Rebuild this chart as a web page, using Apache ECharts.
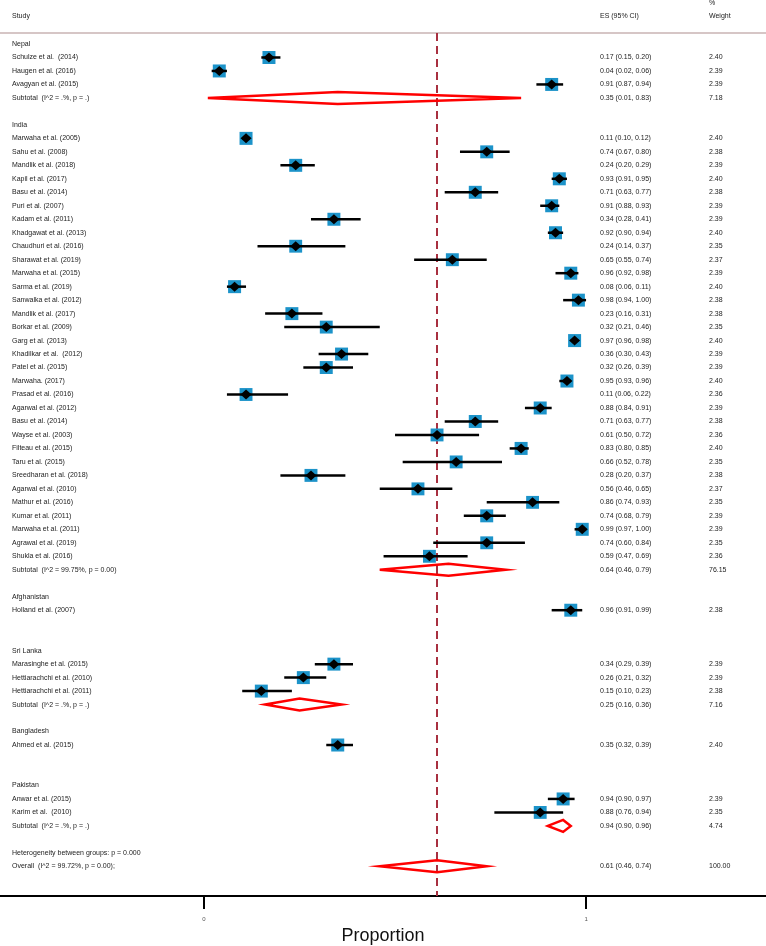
<!DOCTYPE html>
<html>
<head>
<meta charset="utf-8">
<script src="https://cdn.jsdelivr.net/npm/echarts@6/dist/echarts.min.js"></script>
<style>html,body{margin:0;padding:0;background:#fff}#main{width:766px;height:946px}</style>
</head>
<body>
<div id="main"></div>
<script>
// ---------------- DATA ----------------
const groupNames = ['Nepal', 'India', 'Afghanistan', 'Sri Lanka', 'Bangladesh', 'Pakistan'];

const studyNames = [
  'Schulze et al.  (2014)', 'Haugen et al. (2016)', 'Avagyan et al. (2015)',
  'Marwaha et al. (2005)', 'Sahu et al. (2008)', 'Mandlik et al. (2018)', 'Kapil et al. (2017)',
  'Basu et al. (2014)', 'Puri et al. (2007)', 'Kadam et al. (2011)', 'Khadgawat et al. (2013)',
  'Chaudhuri et al. (2016)', 'Sharawat et al. (2019)', 'Marwaha et al. (2015)', 'Sarma et al. (2019)',
  'Sanwalka et al. (2012)', 'Mandlik et al. (2017)', 'Borkar et al. (2009)', 'Garg et al. (2013)',
  'Khadilkar et al.  (2012)', 'Patel et al. (2015)', 'Marwaha. (2017)', 'Prasad et al. (2016)',
  'Agarwal et al. (2012)', 'Basu et al. (2014)', 'Wayse et al. (2003)', 'Filteau et al. (2015)',
  'Taru et al. (2015)', 'Sreedharan et al. (2018)', 'Agarwal et al. (2010)', 'Mathur et al. (2016)',
  'Kumar et al. (2011)', 'Marwaha et al. (2011)', 'Agrawal et al. (2019)', 'Shukla et al. (2016)',
  'Holland et al. (2007)',
  'Marasinghe et al. (2015)', 'Hettiarachchi et al. (2010)', 'Hettiarachchi et al. (2011)',
  'Ahmed et al. (2015)',
  'Anwar et al. (2015)', 'Karim et al.  (2010)'
];
const studyGroup = [
  0, 0, 0,
  1, 1, 1, 1, 1, 1, 1, 1, 1, 1, 1, 1, 1, 1, 1, 1, 1, 1, 1, 1, 1, 1, 1, 1, 1, 1, 1, 1, 1, 1, 1, 1,
  2,
  3, 3, 3,
  4,
  5, 5
];
const studyES = [
  0.17, 0.04, 0.91,
  0.11, 0.74, 0.24, 0.93, 0.71, 0.91, 0.34, 0.92, 0.24, 0.65, 0.96, 0.08, 0.98, 0.23, 0.32, 0.97,
  0.36, 0.32, 0.95, 0.11, 0.88, 0.71, 0.61, 0.83, 0.66, 0.28, 0.56, 0.86, 0.74, 0.99, 0.74, 0.59,
  0.96,
  0.34, 0.26, 0.15,
  0.35,
  0.94, 0.88
];
const studyLo = [
  0.15, 0.02, 0.87,
  0.10, 0.67, 0.20, 0.91, 0.63, 0.88, 0.28, 0.90, 0.14, 0.55, 0.92, 0.06, 0.94, 0.16, 0.21, 0.96,
  0.30, 0.26, 0.93, 0.06, 0.84, 0.63, 0.50, 0.80, 0.52, 0.20, 0.46, 0.74, 0.68, 0.97, 0.60, 0.47,
  0.91,
  0.29, 0.21, 0.10,
  0.32,
  0.90, 0.76
];
const studyHi = [
  0.20, 0.06, 0.94,
  0.12, 0.80, 0.29, 0.95, 0.77, 0.93, 0.41, 0.94, 0.37, 0.74, 0.98, 0.11, 1.00, 0.31, 0.46, 0.98,
  0.43, 0.39, 0.96, 0.22, 0.91, 0.77, 0.72, 0.85, 0.78, 0.37, 0.65, 0.93, 0.79, 1.00, 0.84, 0.69,
  0.99,
  0.39, 0.32, 0.23,
  0.39,
  0.97, 0.94
];
const studyWeight = [
  2.40, 2.39, 2.39,
  2.40, 2.38, 2.39, 2.40, 2.38, 2.39, 2.39, 2.40, 2.35, 2.37, 2.39, 2.40, 2.38, 2.38, 2.35, 2.40,
  2.39, 2.39, 2.40, 2.36, 2.39, 2.38, 2.36, 2.40, 2.35, 2.38, 2.37, 2.35, 2.39, 2.39, 2.35, 2.36,
  2.38,
  2.39, 2.39, 2.38,
  2.40,
  2.39, 2.35
];

// subtotals per group (null = no subtotal row shown)
const subtotalLabels = ['Subtotal  (I^2 = .%, p = .)', 'Subtotal  (I^2 = 99.75%, p = 0.00)', null, 'Subtotal  (I^2 = .%, p = .)', null, 'Subtotal  (I^2 = .%, p = .)'];
const subtotalES = [0.35, 0.64, null, 0.25, null, 0.94];
const subtotalLo = [0.01, 0.46, null, 0.16, null, 0.90];
const subtotalHi = [0.83, 0.79, null, 0.36, null, 0.96];
const subtotalWeight = [7.18, 76.15, null, 7.16, null, 4.74];

const heterogeneityLabel = 'Heterogeneity between groups: p = 0.000';
const overallLabel = 'Overall  (I^2 = 99.72%, p = 0.00);';
const overallES = 0.61, overallLo = 0.46, overallHi = 0.74, overallWeight = 100.00;

const tickValues = [0, 1];
const tickLabels = ['0', '1'];
const headers = { study: 'Study', es: 'ES (95% CI)', pct: '%', weight: 'Weight' };
const xTitle = 'Proportion';

// ---------------- LAYOUT (rows) ----------------
const textRows = [];   // {row, label, es, lo, hi, w}
const studyData = [];  // [es, lo, hi, w, row]
const diamondData = []; // [es, lo, hi, row]
let r = 0;
groupNames.forEach((g, gi) => {
  textRows.push({ row: r, label: g });
  r++;
  studyNames.forEach((name, i) => {
    if (studyGroup[i] !== gi) return;
    textRows.push({ row: r, label: name, es: studyES[i], lo: studyLo[i], hi: studyHi[i], w: studyWeight[i] });
    studyData.push([studyES[i], studyLo[i], studyHi[i], studyWeight[i], r]);
    r++;
  });
  if (subtotalLabels[gi] !== null) {
    textRows.push({ row: r, label: subtotalLabels[gi], es: subtotalES[gi], lo: subtotalLo[gi], hi: subtotalHi[gi], w: subtotalWeight[gi] });
    diamondData.push([subtotalES[gi], subtotalLo[gi], subtotalHi[gi], r]);
  }
  r++;   // subtotal row (maybe empty)
  r++;   // blank row
});
textRows.push({ row: r, label: heterogeneityLabel });
r++;
textRows.push({ row: r, label: overallLabel, es: overallES, lo: overallLo, hi: overallHi, w: overallWeight });
diamondData.push([overallES, overallLo, overallHi, r]);

const fmt = v => v.toFixed(2);
const FONT = '7px "Liberation Sans", Arial, sans-serif';
const TXT = '#222';
const COL_STUDY = 12, COL_ES = 600, COL_W = 709;

const chart = echarts.init(document.getElementById('main'));
chart.setOption({
  animation: false,
  grid: { left: 0, right: 0, top: 33, bottom: 50, containLabel: false, outerBoundsMode: 'none' },
  xAxis: {
    type: 'value', min: -0.534, max: 1.471, position: 'bottom',
    name: xTitle, nameLocation: 'middle', nameGap: 28,
    nameTextStyle: { fontSize: 18, color: '#111', fontFamily: '"Liberation Sans", Arial, sans-serif' },
    axisLine: { show: true, onZero: false, lineStyle: { color: '#000', width: 2 } },
    axisTick: { show: true, customValues: tickValues, length: 13, lineStyle: { color: '#000', width: 2 } },
    axisLabel: { show: true, customValues: tickValues, formatter: v => tickLabels[tickValues.indexOf(v)] ?? String(v), fontSize: 6, color: '#555', margin: 20 },
    splitLine: { show: false }
  },
  yAxis: { type: 'value', inverse: true, min: -0.816, max: 63.2, show: false },
  graphic: [
    { type: 'line', shape: { x1: 0, y1: 33, x2: 766, y2: 33 }, style: { stroke: '#D6C6C6', lineWidth: 2 } },
    { type: 'text', x: COL_STUDY, y: 16.5, style: { text: headers.study, font: FONT, fill: TXT, verticalAlign: 'middle' } },
    { type: 'text', x: COL_ES, y: 16.5, style: { text: headers.es, font: FONT, fill: TXT, verticalAlign: 'middle' } },
    { type: 'text', x: COL_W, y: 3.5, style: { text: headers.pct, font: FONT, fill: TXT, verticalAlign: 'middle' } },
    { type: 'text', x: COL_W, y: 16.5, style: { text: headers.weight, font: FONT, fill: TXT, verticalAlign: 'middle' } }
  ],
  series: [
    {
      type: 'custom', name: 'studies', z: 3,
      data: studyData,
      encode: { x: [0, 1, 2], y: 4 },
      renderItem: (params, api) => {
        const es = api.value(0), lo = api.value(1), hi = api.value(2), w = api.value(3), row = api.value(4);
        const c = api.coord([es, row]);
        const pl = api.coord([lo, row]);
        const ph = api.coord([hi, row]);
        const side = 13 * Math.sqrt(w / 2.40);
        return {
          type: 'group', children: [
            { type: 'rect', shape: { x: c[0] - side / 2, y: c[1] - side / 2, width: side, height: side }, style: { fill: '#1c93c9' } },
            { type: 'line', shape: { x1: pl[0], y1: c[1], x2: ph[0], y2: c[1] }, style: { stroke: '#000', lineWidth: 2.5 } },
            { type: 'polygon', shape: { points: [[c[0] - 5.5, c[1]], [c[0], c[1] - 5], [c[0] + 5.5, c[1]], [c[0], c[1] + 5]] }, style: { fill: '#000' } }
          ]
        };
      },
      markLine: {
        silent: true, symbol: 'none', label: { show: false }, z: 1,
        lineStyle: { color: '#A83040', type: [8, 5], width: 2 },
        data: [{ xAxis: overallES }]
      }
    },
    {
      type: 'custom', name: 'pooled', z: 4,
      data: diamondData,
      encode: { x: [0, 1, 2], y: 3 },
      renderItem: (params, api) => {
        const es = api.value(0), lo = api.value(1), hi = api.value(2), row = api.value(3);
        const c = api.coord([es, row]);
        const pl = api.coord([lo, row]);
        const ph = api.coord([hi, row]);
        return {
          type: 'polygon',
          shape: { points: [[pl[0], c[1]], [c[0], c[1] - 6], [ph[0], c[1]], [c[0], c[1] + 6]] },
          style: { fill: 'none', stroke: '#FF0000', lineWidth: 2.5, lineJoin: 'miter' }
        };
      }
    },
    {
      type: 'custom', name: 'text', z: 5, silent: true,
      data: textRows.map((t, i) => [0, t.row, i]),
      encode: { x: 0, y: 1 },
      renderItem: (params, api) => {
        const t = textRows[api.value(2)];
        const y = api.coord([0, t.row])[1];
        const kids = [{ type: 'text', x: COL_STUDY, y: y, style: { text: t.label, font: FONT, fill: TXT, verticalAlign: 'middle' } }];
        if (t.es !== undefined) {
          kids.push({ type: 'text', x: COL_ES, y: y, style: { text: fmt(t.es) + ' (' + fmt(t.lo) + ', ' + fmt(t.hi) + ')', font: FONT, fill: TXT, verticalAlign: 'middle' } });
          kids.push({ type: 'text', x: COL_W, y: y, style: { text: fmt(t.w), font: FONT, fill: TXT, verticalAlign: 'middle' } });
        }
        return { type: 'group', children: kids };
      }
    }
  ]
});
</script>
</body>
</html>
